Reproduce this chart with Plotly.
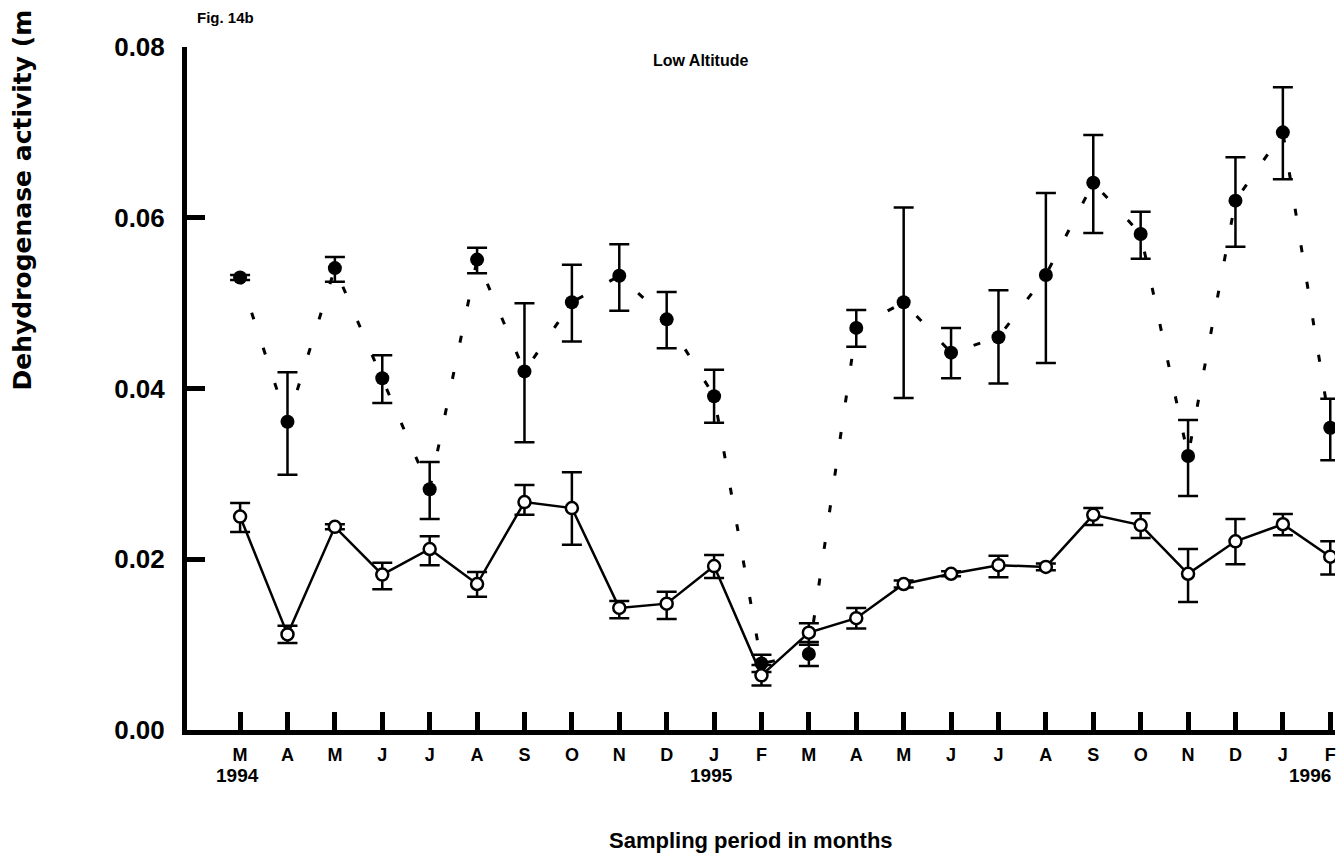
import plotly.graph_objects as go

months = ["M", "A", "M", "J", "J", "A", "S", "O", "N", "D", "J", "F",
          "M", "A", "M", "J", "J", "A", "S", "O", "N", "D", "J", "F"]
year_labels = {0: "1994", 10: "1995", 23: "1996"}
y_ticks = [0.00, 0.02, 0.04, 0.06, 0.08]
y_ticktext = ["0.00", "0.02", "0.04", "0.06", "0.08"]

# Filled circles (dotted line)
filled = [0.0530, 0.0361, 0.0541, 0.0412, 0.0282, 0.0551, 0.0420, 0.0501,
          0.0532, 0.0481, 0.0391, 0.0078, 0.0089, 0.0471, 0.0501, 0.0442,
          0.0460, 0.0533, 0.0641, 0.0581, 0.0321, 0.0620, 0.0700, 0.0354]
filled_hi = [0.0533, 0.0419, 0.0554, 0.0439, 0.0314, 0.0565, 0.0500, 0.0545,
             0.0569, 0.0513, 0.0422, 0.0088, 0.0103, 0.0492, 0.0612, 0.0471,
             0.0515, 0.0629, 0.0697, 0.0607, 0.0363, 0.0671, 0.0753, 0.0388]
filled_lo = [0.0527, 0.0299, 0.0525, 0.0383, 0.0247, 0.0535, 0.0337, 0.0455,
             0.0491, 0.0447, 0.0360, 0.0068, 0.0075, 0.0449, 0.0389, 0.0412,
             0.0406, 0.0430, 0.0582, 0.0552, 0.0274, 0.0566, 0.0645, 0.0316]

# Open circles (solid line)
opened = [0.0250, 0.0112, 0.0238, 0.0182, 0.0212, 0.0171, 0.0267, 0.0260,
          0.0143, 0.0148, 0.0192, 0.0064, 0.0114, 0.0131, 0.0171, 0.0183,
          0.0193, 0.0191, 0.0252, 0.0240, 0.0183, 0.0221, 0.0241, 0.0203]
opened_hi = [0.0266, 0.0122, 0.0241, 0.0196, 0.0227, 0.0185, 0.0287, 0.0302,
             0.0151, 0.0162, 0.0205, 0.0076, 0.0125, 0.0143, 0.0175, 0.0186,
             0.0204, 0.0195, 0.0260, 0.0254, 0.0212, 0.0247, 0.0253, 0.0221]
opened_lo = [0.0232, 0.0102, 0.0235, 0.0165, 0.0193, 0.0156, 0.0252, 0.0217,
             0.0131, 0.0130, 0.0178, 0.0052, 0.0100, 0.0119, 0.0167, 0.0180,
             0.0179, 0.0187, 0.0240, 0.0225, 0.0150, 0.0194, 0.0228, 0.0182]

x = list(range(len(months)))

def errs(vals, hi, lo):
    return [h - v for v, h in zip(vals, hi)], [v - l for v, l in zip(vals, lo)]

f_up, f_dn = errs(filled, filled_hi, filled_lo)
o_up, o_dn = errs(opened, opened_hi, opened_lo)

FONT = "Liberation Sans, Arial, sans-serif"
WIDE = "DejaVu Sans, Liberation Sans, sans-serif"

fig = go.Figure()
fig.add_trace(go.Scatter(
    x=x, y=filled, mode="lines+markers",
    line=dict(color="black", width=3, dash="7px,30px"),
    marker=dict(symbol="circle", size=14, color="black"),
    error_y=dict(type="data", symmetric=False, array=f_up, arrayminus=f_dn,
                 color="black", thickness=2.5, width=10),
    showlegend=False))
fig.add_trace(go.Scatter(
    x=x, y=opened, mode="lines+markers",
    line=dict(color="black", width=2.5),
    marker=dict(symbol="circle", size=12, color="white",
                line=dict(color="black", width=2.5)),
    error_y=dict(type="data", symmetric=False, array=o_up, arrayminus=o_dn,
                 color="black", thickness=2.5, width=10),
    showlegend=False))

fig.update_layout(
    width=1342, height=856,
    margin=dict(l=187, r=7, t=47, b=126),
    paper_bgcolor="white", plot_bgcolor="white",
    font=dict(family=FONT, color="black"),
    xaxis=dict(range=[-1.12, 23.1], tickmode="array", tickvals=x,
               ticktext=["<b>%s</b>" % m for m in months],
               ticks="inside", ticklen=18, tickwidth=5, tickcolor="black",
               showline=True, linewidth=5, linecolor="black",
               showgrid=False, zeroline=False,
               tickfont=dict(size=18, family=FONT), ticklabelstandoff=4),
    yaxis=dict(range=[0, 0.08], tickmode="array", tickvals=y_ticks,
               ticktext=["<b>%s</b>" % t for t in y_ticktext],
               ticks="inside", ticklen=18, tickwidth=5, tickcolor="black",
               showline=True, linewidth=5, linecolor="black",
               showgrid=False, zeroline=False,
               tickfont=dict(size=26, family=FONT), ticklabelstandoff=12),
)

W, H0, PH = 1148, 730, 683  # plot width, bottom pixel, plot height

def px(xp):
    return (xp - 187) / W

def py(yp):
    return (H0 - yp) / PH

annotations = []
for i, yr in year_labels.items():
    shift = -20 if i == len(months) - 1 else -3
    annotations.append(dict(x=i, y=0, xref="x", yref="paper", text="<b>%s</b>" % yr,
                            showarrow=False, yanchor="middle", yshift=-45, xshift=shift,
                            font=dict(size=19, family=FONT)))
annotations += [
    dict(x=px(195), y=py(18), xref="paper", yref="paper", xanchor="left", yanchor="middle",
         text="<b>Fig. 14b</b>", showarrow=False, font=dict(size=15, family=FONT)),
    dict(x=px(700), y=py(60), xref="paper", yref="paper", xanchor="center", yanchor="middle",
         text="<b>Low Altitude</b>", showarrow=False, font=dict(size=16, family=FONT)),
    dict(x=px(751), y=py(840), xref="paper", yref="paper", xanchor="center", yanchor="middle",
         text="<b>Sampling period in months</b>", showarrow=False,
         font=dict(size=22, family=FONT)),
    dict(x=px(22), y=py(392), xref="paper", yref="paper",
         xanchor="center", yanchor="bottom", textangle=-90,
         text="<b>Dehydrogenase activity (m</b>", showarrow=False,
         font=dict(size=25, family=WIDE)),
]
fig.update_layout(annotations=annotations)

fig.write_html("out.html")
